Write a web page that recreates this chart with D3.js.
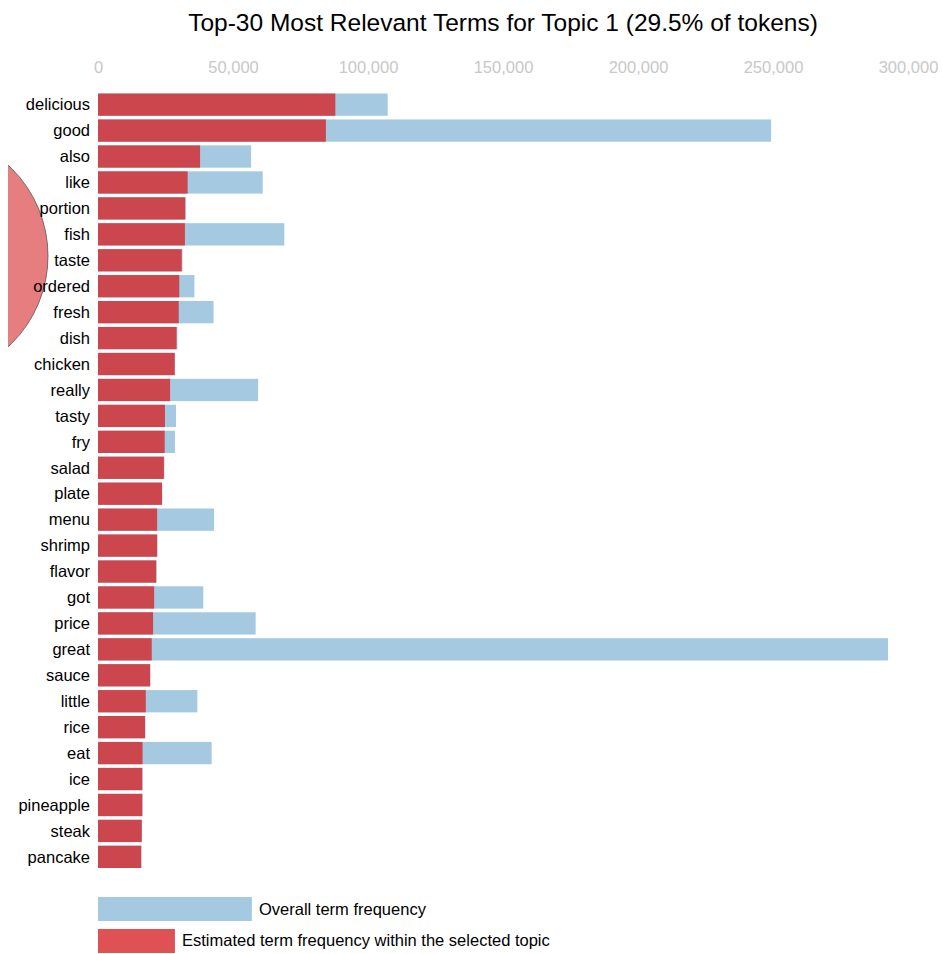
<!DOCTYPE html>
<html>
<head>
<meta charset="utf-8">
<script src="https://cdn.jsdelivr.net/npm/d3@7"></script>
<style>
  body { margin: 0; background: #fff; }
  text { font-family: "Liberation Sans", Arial, Helvetica, sans-serif; }
</style>
</head>
<body>
<div class="canvas"></div>
<script>
const terms = ['delicious', 'good', 'also', 'like', 'portion', 'fish', 'taste', 'ordered', 'fresh', 'dish',
    'chicken', 'really', 'tasty', 'fry', 'salad', 'plate', 'menu', 'shrimp', 'flavor', 'got',
    'price', 'great', 'sauce', 'little', 'rice', 'eat', 'ice', 'pineapple', 'steak', 'pancake'];

// estimated term frequency within topic 1 (red)
const topicFreq = [87900, 84400, 37800, 33200, 32300, 32200, 31000, 30100, 29900, 29100,
    28400, 26700, 24800, 24700, 24400, 23700, 21900, 21900, 21500, 20800,
    20400, 19900, 19300, 17700, 17400, 16500, 16400, 16400, 16200, 16000];

// overall term frequency (blue)
const totalFreq = [107300, 249300, 56700, 61000, 32500, 69000, 31300, 35700, 42800, 29400,
    28600, 59300, 28900, 28500, 24600, 23800, 43000, 22000, 21800, 39000,
    58400, 292600, 19400, 36800, 17600, 42100, 16500, 16500, 16300, 16100];

const xTicks = [0, 50000, 100000, 150000, 200000, 250000, 300000];

const width = 943;
const height = 954;
const margin = {top: 93.5, left: 98};

const svg = d3.select('.canvas')
    .append('svg')
    .attr('width', width)
    .attr('height', height);

// topic circle from the neighbouring panel, clipped at the edge
svg.append('clipPath')
    .attr('id', 'leftClip')
    .append('rect')
    .attr('x', 8).attr('y', 0)
    .attr('width', 200).attr('height', height);

svg.append('circle')
    .attr('clip-path', 'url(#leftClip)')
    .attr('cx', -75.5)
    .attr('cy', 256)
    .attr('r', 123.5)
    .attr('fill', '#d62728')
    .attr('fill-opacity', 0.6)
    .attr('stroke', '#555')
    .attr('stroke-opacity', 0.8)
    .attr('stroke-width', 1);

const x = d3.scaleLinear()
    .domain([0, 300000])
    .range([margin.left, margin.left + 810]);

const y = d3.scaleBand()
    .domain(terms)
    .range([margin.top, 868])
    .paddingInner(0.14)
    .paddingOuter(0);

svg.append('text')
    .attr('x', 503)
    .attr('y', 31)
    .attr('text-anchor', 'middle')
    .attr('font-size', 24.5)
    .attr('fill', '#000')
    .text('Top-30 Most Relevant Terms for Topic 1 (29.5% of tokens)');

const xAxis = d3.axisTop(x)
    .tickValues(xTicks)
    .tickSize(0)
    .tickPadding(0)
    .tickFormat(d3.format(','));

const xAxisGroup = svg.append('g')
    .attr('transform', 'translate(0, 73)')
    .call(xAxis);
xAxisGroup.select('.domain').remove();
xAxisGroup.selectAll('text')
    .attr('font-size', 16.5)
    .attr('font-family', '"Liberation Sans", Arial, sans-serif')
    .attr('fill', '#c8c8c8');

const rows = terms.map((t, i) => ({term: t, topic: topicFreq[i], total: totalFreq[i]}));

svg.append('g').selectAll('rect')
    .data(rows)
    .enter()
    .append('rect')
    .attr('x', x(0))
    .attr('y', d => y(d.term))
    .attr('width', d => x(d.total) - x(0))
    .attr('height', y.bandwidth())
    .attr('fill', '#1f77b4')
    .attr('opacity', 0.4);

svg.append('g').selectAll('rect')
    .data(rows)
    .enter()
    .append('rect')
    .attr('x', x(0))
    .attr('y', d => y(d.term))
    .attr('width', d => x(d.topic) - x(0))
    .attr('height', y.bandwidth())
    .attr('fill', '#d62728')
    .attr('opacity', 0.8);

svg.append('g').selectAll('text')
    .data(rows)
    .enter()
    .append('text')
    .attr('x', margin.left - 8)
    .attr('y', d => y(d.term) + y.bandwidth() / 2)
    .attr('dy', '0.35em')
    .attr('text-anchor', 'end')
    .attr('font-size', 16.5)
    .attr('fill', '#000')
    .text(d => d.term);

// legend
const legend = svg.append('g');

legend.append('rect')
    .attr('x', x(0)).attr('y', 897)
    .attr('width', x(57000) - x(0)).attr('height', 24)
    .attr('fill', '#1f77b4').attr('opacity', 0.4);
legend.append('text')
    .attr('x', 259).attr('y', 909)
    .attr('dy', '0.35em')
    .attr('font-size', 16.5)
    .text('Overall term frequency');

legend.append('rect')
    .attr('x', x(0)).attr('y', 929)
    .attr('width', x(28500) - x(0)).attr('height', 24)
    .attr('fill', '#d62728').attr('opacity', 0.8);
legend.append('text')
    .attr('x', 182).attr('y', 940)
    .attr('dy', '0.35em')
    .attr('font-size', 16.5)
    .text('Estimated term frequency within the selected topic');
</script>
</body>
</html>
